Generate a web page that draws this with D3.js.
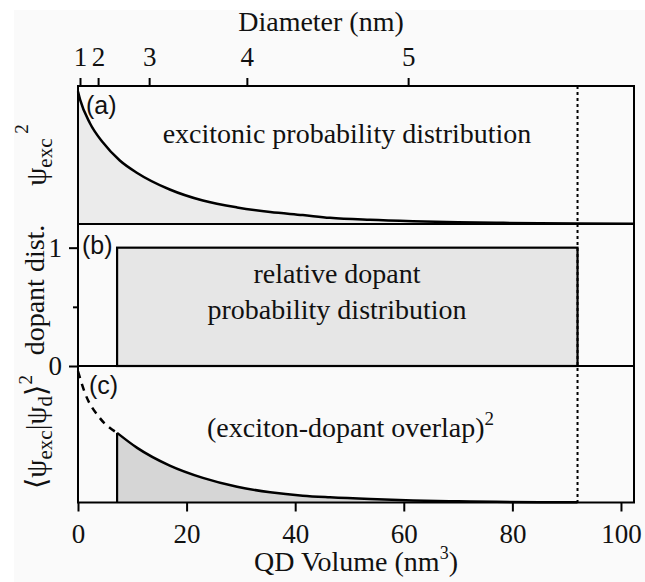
<!DOCTYPE html>
<html>
<head>
<meta charset="utf-8">
<script src="https://cdn.jsdelivr.net/npm/d3@7"></script>
<style>
  body { margin: 0; background: #fff; }
  svg text { font-family: "Liberation Serif", "DejaVu Serif", serif; fill: #111; }
  .panel-tag { font-family: "Liberation Sans", Arial, sans-serif; font-size: 25px; }
</style>
</head>
<body>
<div id="chart"></div>
<script>
// QD volume axis (nm^3)
var volumeTicks = [0, 20, 40, 60, 80, 100];
// top axis: diameter labels and the volume they sit at
var diameterLabels = ["1", "2", "3", "4", "5"];
var diameterVolumes = [0.37, 3.7, 13.1, 31.1, 60.8];

// (a) excitonic probability distribution
var volA = [0, 0.4, 2.2, 4.6, 7.7, 10.9, 16.9, 23, 29.3, 35.4, 41.4, 46.4, 53.8, 61.7, 70, 77, 85, 92, 102.4];
var psiA = [0.96, 0.90, 0.73, 0.59, 0.46, 0.37, 0.25, 0.17, 0.12, 0.087, 0.065, 0.045, 0.03, 0.02, 0.013, 0.009, 0.005, 0.003, 0.001];

// (b) relative dopant distribution (box from start to end)
var dopantVol = [7.2, 92];
var dopantLevel = 1;
var dopantTicks = [0, 1];

// (c) overlap squared, dashed part (no dopants) and solid part
var volCdash = [0, 1.3, 4, 7.2];
var overlapCdash = [0.96, 0.80, 0.62, 0.51];
var volC = [7.2, 10.9, 16.9, 23, 29.3, 35.4, 41.4, 46.4, 53.8, 61.7, 70, 77, 85, 92];
var overlapC = [0.51, 0.40, 0.27, 0.18, 0.115, 0.075, 0.05, 0.038, 0.025, 0.015, 0.009, 0.005, 0.002, 0.001];

// cutoff (dotted line)
var cutoffVol = 92;

var width = 645, height = 582;
var left = 78, right = 634;
var tops = [86, 224, 366], bottoms = [224, 366, 502.5];

var svg = d3.select("#chart").append("svg")
  .attr("width", width)
  .attr("height", height);

// faint scan background
svg.append("rect")
  .attr("x", 14).attr("y", 10)
  .attr("width", width - 14).attr("height", height - 10)
  .attr("fill", "#fafafa");

var x = d3.scaleLinear().domain([0, 102.4]).range([left, right]);

var yA = d3.scaleLinear().domain([0, 1]).range([bottoms[0], tops[0]]);
var yB = d3.scaleLinear().domain([0, 1.2]).range([bottoms[1], tops[1]]);
var yC = d3.scaleLinear().domain([0, 1]).range([bottoms[2], tops[2]]);

var ptsA = volA.map(function(v, i) { return [v, psiA[i]]; });
var ptsC = volC.map(function(v, i) { return [v, overlapC[i]]; });
var ptsCd = volCdash.map(function(v, i) { return [v, overlapCdash[i]]; });

// ---- panel (a)
var areaA = d3.area().curve(d3.curveMonotoneX)
  .x(function(d) { return x(d[0]); })
  .y0(yA(0))
  .y1(function(d) { return yA(d[1]); });
var lineA = d3.line().curve(d3.curveMonotoneX)
  .x(function(d) { return x(d[0]); })
  .y(function(d) { return yA(d[1]); });

svg.append("path").attr("d", areaA(ptsA)).attr("fill", "#ebebeb");
svg.append("path").attr("d", lineA(ptsA))
  .attr("fill", "none").attr("stroke", "#000").attr("stroke-width", 2.5);

// ---- panel (b)
svg.append("rect")
  .attr("x", x(dopantVol[0]))
  .attr("y", yB(dopantLevel))
  .attr("width", x(dopantVol[1]) - x(dopantVol[0]))
  .attr("height", yB(0) - yB(dopantLevel))
  .attr("fill", "#e6e6e6")
  .attr("stroke", "#000")
  .attr("stroke-width", 2.2);

// ---- panel (c)
var areaC = d3.area().curve(d3.curveMonotoneX)
  .x(function(d) { return x(d[0]); })
  .y0(yC(0))
  .y1(function(d) { return yC(d[1]); });
var lineC = d3.line().curve(d3.curveMonotoneX)
  .x(function(d) { return x(d[0]); })
  .y(function(d) { return yC(d[1]); });

svg.append("path").attr("d", areaC(ptsC)).attr("fill", "#d6d6d6");
svg.append("path").attr("d", lineC(ptsC))
  .attr("fill", "none").attr("stroke", "#000").attr("stroke-width", 2.5);
svg.append("path").attr("d", lineC(ptsCd))
  .attr("fill", "none").attr("stroke", "#000").attr("stroke-width", 2.5)
  .attr("stroke-dasharray", "7,6");
svg.append("line")
  .attr("x1", x(volC[0])).attr("x2", x(volC[0]))
  .attr("y1", yC(0)).attr("y2", yC(overlapC[0]))
  .attr("stroke", "#000").attr("stroke-width", 2.2);

// dotted cutoff line through all panels
svg.append("line")
  .attr("x1", x(cutoffVol)).attr("x2", x(cutoffVol))
  .attr("y1", tops[0]).attr("y2", bottoms[2])
  .attr("stroke", "#000").attr("stroke-width", 2)
  .attr("stroke-dasharray", "3,3");

// frame and panel separators
svg.append("rect")
  .attr("x", left).attr("y", tops[0])
  .attr("width", right - left).attr("height", bottoms[2] - tops[0])
  .attr("fill", "none").attr("stroke", "#000").attr("stroke-width", 2);
[bottoms[0], bottoms[1]].forEach(function(yy) {
  svg.append("line")
    .attr("x1", left).attr("x2", right)
    .attr("y1", yy).attr("y2", yy)
    .attr("stroke", "#000").attr("stroke-width", 2);
});

// ---- axes
function styleAxis(g) {
  g.select(".domain").remove();
  g.selectAll(".tick line").attr("stroke", "#000").attr("stroke-width", 2);
  g.selectAll(".tick text")
    .attr("fill", "#111")
    .style("font-family", "'Liberation Serif', serif")
    .style("font-size", "27px");
}

svg.append("g")
  .attr("transform", "translate(0," + bottoms[2] + ")")
  .call(d3.axisBottom(x).tickValues(volumeTicks).tickSize(9).tickPadding(12))
  .call(styleAxis);

svg.append("g")
  .attr("transform", "translate(0," + tops[0] + ")")
  .call(d3.axisTop(x).tickValues(diameterVolumes)
    .tickFormat(function(d, i) { return diameterLabels[i]; })
    .tickSize(8).tickPadding(12))
  .call(styleAxis);

svg.append("g")
  .attr("transform", "translate(" + left + ",0)")
  .call(d3.axisLeft(yB).tickValues(dopantTicks).tickFormat(d3.format("d")).tickSize(9).tickPadding(7))
  .call(styleAxis);

svg.append("g")
  .attr("transform", "translate(" + left + ",0)")
  .call(d3.axisLeft(yB).tickValues([0.5]).tickFormat("").tickSize(5))
  .call(styleAxis);

// ---- titles
svg.append("text")
  .attr("x", 321).attr("y", 31)
  .attr("text-anchor", "middle")
  .style("font-size", "28px")
  .text("Diameter (nm)");

var xt = svg.append("text")
  .attr("x", 356).attr("y", 571)
  .attr("text-anchor", "middle")
  .style("font-size", "28px");
xt.append("tspan").text("QD Volume (nm");
xt.append("tspan").attr("dy", -12).style("font-size", "18px").text("3");
xt.append("tspan").attr("dy", 12).text(")");

// rotated y labels
var la = svg.append("text")
  .attr("transform", "translate(46,155) rotate(-90)")
  .attr("text-anchor", "middle")
  .style("font-size", "29px");
la.append("tspan").text("ψ");
la.append("tspan").attr("dy", 6).style("font-size", "21px").text("exc");
la.append("tspan").attr("dy", -24).style("font-size", "19px").text(" 2");

svg.append("text")
  .attr("transform", "translate(44,290) rotate(-90)")
  .attr("text-anchor", "middle")
  .style("font-size", "28px")
  .text("dopant dist.");

var lc = svg.append("text")
  .attr("transform", "translate(46,432) rotate(-90)")
  .attr("text-anchor", "middle")
  .style("font-size", "29px");
lc.append("tspan").text("⟨ψ");
lc.append("tspan").attr("dy", 6).style("font-size", "21px").text("exc");
lc.append("tspan").attr("dy", -6).text("|ψ");
lc.append("tspan").attr("dy", 6).style("font-size", "21px").text("d");
lc.append("tspan").attr("dy", -6).text("⟩");
lc.append("tspan").attr("dy", -14).style("font-size", "19px").text("2");

// panel annotations
svg.append("text")
  .attr("x", 347).attr("y", 143)
  .attr("text-anchor", "middle")
  .style("font-size", "28px")
  .text("excitonic probability distribution");

svg.append("text")
  .attr("x", 337).attr("y", 283)
  .attr("text-anchor", "middle")
  .style("font-size", "28px")
  .text("relative dopant");
svg.append("text")
  .attr("x", 337).attr("y", 319)
  .attr("text-anchor", "middle")
  .style("font-size", "28px")
  .text("probability distribution");

var ov = svg.append("text")
  .attr("x", 207).attr("y", 437)
  .style("font-size", "28px");
ov.append("tspan").text("(exciton-dopant overlap)");
ov.append("tspan").attr("dy", -12).style("font-size", "19px").text("2");

// panel tags
[["(a)", 86, 114], ["(b)", 82, 254], ["(c)", 89, 394]].forEach(function(t) {
  svg.append("text").attr("class", "panel-tag")
    .attr("x", t[1]).attr("y", t[2]).text(t[0]);
});
</script>
</body>
</html>
